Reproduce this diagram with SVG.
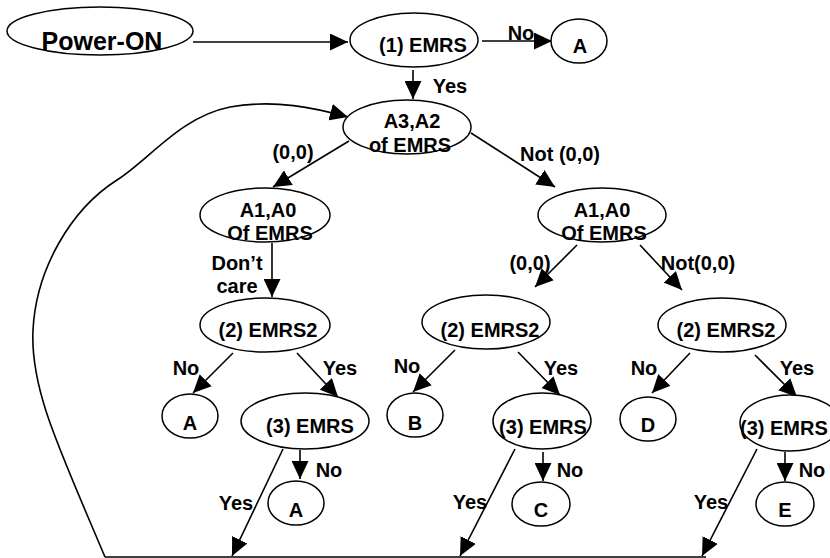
<svg xmlns="http://www.w3.org/2000/svg" width="830" height="558" viewBox="0 0 830 558">
<style>
.n ellipse{fill:#fff;stroke:#000;stroke-width:1.5}
text{font-family:"Liberation Sans",Arial,sans-serif;font-weight:bold;font-size:20px;fill:#000;text-anchor:middle}
.c path,.c line{fill:none;stroke:#000;stroke-width:1.6}
.arr{marker-end:url(#ah)}
</style>
<defs>
<marker id="ah" markerUnits="userSpaceOnUse" markerWidth="19" markerHeight="17" refX="18" refY="8.5" orient="auto">
<path d="M0,0 L18,8.5 L0,17 z" fill="#000"/>
</marker>
</defs>
<rect width="830" height="558" fill="#fff"/>
<g class="c" id="connectors">
<line class="arr" x1="193" y1="42" x2="348" y2="42"/>
<line class="arr" x1="482" y1="41" x2="552" y2="41"/>
<line class="arr" x1="413" y1="70" x2="413" y2="99"/>
<line class="arr" x1="349" y1="141" x2="273" y2="187"/>
<line class="arr" x1="471" y1="133" x2="555" y2="187"/>
<line class="arr" x1="272" y1="243" x2="272" y2="297"/>
<line class="arr" x1="577" y1="245" x2="535" y2="287"/>
<line class="arr" x1="640" y1="245" x2="682" y2="290"/>
<line class="arr" x1="233" y1="353" x2="193" y2="393"/>
<line class="arr" x1="297" y1="353" x2="338" y2="397"/>
<line class="arr" x1="455" y1="350" x2="413" y2="392"/>
<line class="arr" x1="518" y1="352" x2="560" y2="395"/>
<line class="arr" x1="690" y1="353" x2="652" y2="393"/>
<line class="arr" x1="755" y1="355" x2="797" y2="397"/>
<line class="arr" x1="300" y1="450" x2="300" y2="479"/>
<line class="arr" x1="543" y1="452" x2="543" y2="481"/>
<line class="arr" x1="785" y1="452" x2="785" y2="481"/>
<line class="arr" x1="283" y1="449" x2="232" y2="556"/>
<line class="arr" x1="515" y1="449" x2="460" y2="556"/>
<line class="arr" x1="757" y1="449" x2="702" y2="556"/>
<line x1="105" y1="557" x2="706" y2="557"/>
<path class="arr" d="M105,557 C60,450 30,390 33,330 C36,270 70,210 117,180 C150,159 180,117 230,107 C275,99 315,108 348,117"/>
</g>
<g class="n" id="power-on"><ellipse cx="100" cy="31" rx="93" ry="24"/><text x="102" y="50" style="font-size:25px">Power-ON</text></g>
<g class="n" id="emrs1"><ellipse cx="414" cy="40" rx="64" ry="27"/><text x="423" y="52">(1) EMRS</text></g>
<g class="n" id="a-top"><ellipse cx="579" cy="41" rx="28" ry="22"/><text x="580" y="53">A</text></g>
<g class="n" id="a3a2"><ellipse cx="407" cy="127" rx="64" ry="27"/><text x="412" y="128">A3,A2</text><text x="410" y="152">of EMRS</text></g>
<g class="n" id="a1a0-left"><ellipse cx="265" cy="215" rx="65" ry="27"/><text x="268" y="217">A1,A0</text><text x="270" y="240">Of EMRS</text></g>
<g class="n" id="a1a0-right"><ellipse cx="602" cy="215" rx="64" ry="27"/><text x="602" y="217">A1,A0</text><text x="604" y="240">Of EMRS</text></g>
<g class="n" id="emrs2-left"><ellipse cx="265" cy="325" rx="65" ry="27"/><text x="268" y="337">(2) EMRS2</text></g>
<g class="n" id="emrs2-mid"><ellipse cx="486" cy="322" rx="64" ry="27"/><text x="490" y="337">(2) EMRS2</text></g>
<g class="n" id="emrs2-right"><ellipse cx="722" cy="325" rx="64" ry="27"/><text x="726" y="337">(2) EMRS2</text></g>
<g class="n" id="a-left"><ellipse cx="190" cy="416" rx="28" ry="22"/><text x="190" y="430">A</text></g>
<g class="n" id="emrs3-left"><ellipse cx="305" cy="421" rx="64" ry="28"/><text x="310" y="433">(3) EMRS</text></g>
<g class="n" id="a-left2"><ellipse cx="296" cy="503" rx="28" ry="22"/><text x="296" y="517">A</text></g>
<g class="n" id="b"><ellipse cx="415" cy="415" rx="28" ry="22"/><text x="415" y="430">B</text></g>
<g class="n" id="emrs3-mid"><ellipse cx="542" cy="421" rx="49" ry="28"/><text x="543" y="434">(3) EMRS</text></g>
<g class="n" id="c"><ellipse cx="541" cy="504" rx="29" ry="22"/><text x="541" y="517">C</text></g>
<g class="n" id="d"><ellipse cx="648" cy="419" rx="28" ry="22"/><text x="648" y="432">D</text></g>
<g class="n" id="emrs3-right"><ellipse cx="790" cy="423" rx="50" ry="28"/><text x="740" y="435" style="text-anchor:start">(3) EMRS</text></g>
<g class="n" id="e"><ellipse cx="785" cy="504" rx="29" ry="22"/><text x="785" y="517">E</text></g>
<g id="labels">
<text x="521" y="40">No</text>
<text x="450" y="93">Yes</text>
<text x="293" y="159">(0,0)</text>
<text x="560" y="161">Not (0,0)</text>
<text x="237" y="270">Don’t</text>
<text x="237" y="293">care</text>
<text x="530" y="270">(0,0)</text>
<text x="698" y="270">Not(0,0)</text>
<text x="186" y="375">No</text>
<text x="340" y="375">Yes</text>
<text x="407" y="373">No</text>
<text x="561" y="375">Yes</text>
<text x="644" y="375">No</text>
<text x="797" y="375">Yes</text>
<text x="329" y="477">No</text>
<text x="570" y="477">No</text>
<text x="812" y="477">No</text>
<text x="236" y="510">Yes</text>
<text x="470" y="509">Yes</text>
<text x="711" y="509">Yes</text>
</g>
</svg>
